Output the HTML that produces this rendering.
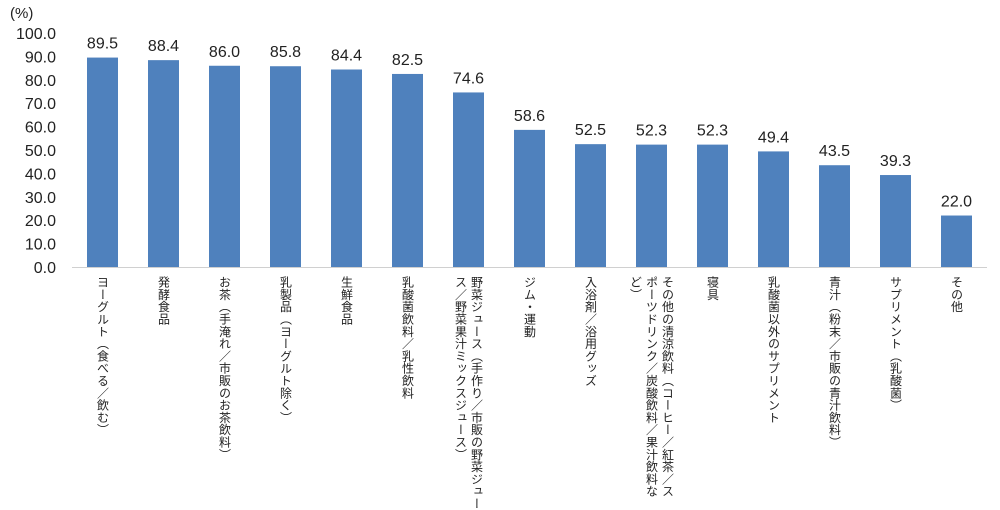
<!DOCTYPE html>
<html><head><meta charset="utf-8"><style>
body{margin:0;background:#fff;width:1000px;height:495px;overflow:hidden;position:relative;font-family:"Liberation Sans","Noto Sans CJK JP",sans-serif}
.xl{position:absolute;top:276px;writing-mode:vertical-rl;font-size:12px;line-height:16px;color:#222;transform:translateX(-50%);white-space:nowrap;letter-spacing:0.3px}
</style></head><body>
<svg id="chart" width="1000" height="495" style="position:absolute;left:0;top:0"></svg>
<div id="labels"></div>
<script>
const categories=["ヨーグルト（食べる／飲む）","発酵食品","お茶（手淹れ／市販のお茶飲料）","乳製品（ヨーグルト除く）","生鮮食品","乳酸菌飲料／乳性飲料","野菜ジュース（手作り／市販の野菜ジュー<br>ス／野菜果汁ミックスジュース）","ジム・運動","入浴剤／浴用グッズ","その他の清涼飲料（コーヒー／紅茶／ス<br>ポーツドリンク／炭酸飲料／果汁飲料な<br>ど）","寝具","乳酸菌以外のサプリメント","青汁（粉末／市販の青汁飲料）","サプリメント（乳酸菌）","その他"];
const values=[89.5,88.4,86.0,85.8,84.4,82.5,74.6,58.6,52.5,52.3,52.3,49.4,43.5,39.3,22.0];
const yTicks=[0,10,20,30,40,50,60,70,80,90,100];
const NS="http://www.w3.org/2000/svg";
const svg=document.getElementById('chart');
const y0=267,y100=33,x0=72,band=61;
const y=v=>y0-(y0-y100)*v/100;
const xc=i=>x0+band*i+band/2;
function mk(t,a){const e=document.createElementNS(NS,t);for(const k in a)e.setAttribute(k,a[k]);svg.appendChild(e);return e;}
yTicks.forEach(t=>{const e=mk('text',{x:56,y:y(t)+6,'text-anchor':'end','font-size':16,fill:'#222'});


e.textContent=t.toFixed(1);});
const u=mk('text',{x:10,y:18,'font-size':15,fill:'#222'});u.textContent='(%)';


values.forEach((v,i)=>{const r=mk('rect',{x:xc(i)-15.5,y:y(v),width:31,height:y0-y(v),fill:'#4f81bd'});


const t=mk('text',{x:xc(i),y:y(v)-9,'text-anchor':'middle','font-size':16,fill:'#222'});


t.textContent=v.toFixed(1);});
const ax=mk('line',{x1:x0,x2:x0+band*values.length,y1:y0+0.5,y2:y0+0.5,stroke:'#d0d0d0','stroke-width':1});


const lab=document.getElementById('labels');
categories.forEach((c,i)=>{const d=document.createElement('div');d.className='xl';d.style.left=xc(i)+'px';d.innerHTML=c;


lab.appendChild(d);});
</script>
</body></html>
